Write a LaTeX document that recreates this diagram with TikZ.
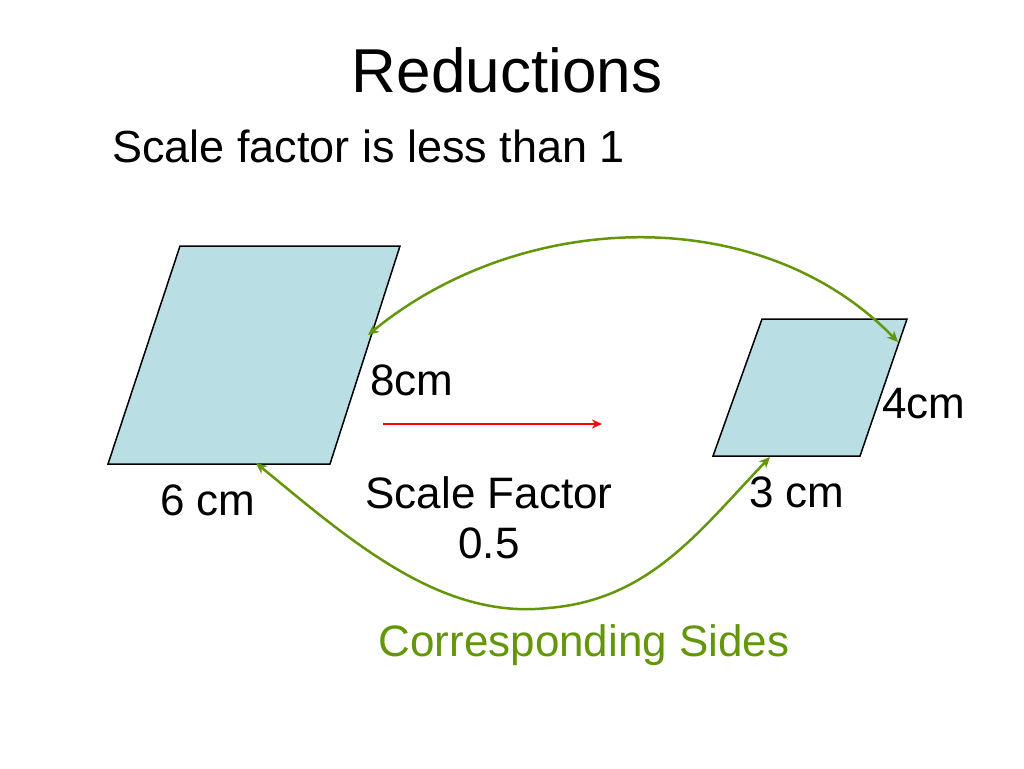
\documentclass[tikz,border=0pt]{standalone}
\usepackage{fontspec}
\setmainfont{Liberation Sans}
\usetikzlibrary{arrows.meta}
\definecolor{gr}{RGB}{100,150,10}
\definecolor{fillb}{RGB}{185,222,228}
\begin{document}
\begin{tikzpicture}[x=1pt,y=-1pt,
  lbl/.style={inner sep=0pt,font=\fontsize{44}{50}\selectfont},
  shp/.style={draw=black,fill=fillb,line width=1.5pt},
  conn/.style={draw=gr,line width=2.5pt,<->,>={Stealth[length=11pt,width=10pt]}}]
\useasboundingbox (0,0) rectangle (1024,768);
\node[inner sep=0pt,font=\fontsize{62}{70}\selectfont] (title) at (507,70) {Reductions};
\node[inner sep=0pt,font=\fontsize{45}{50}\selectfont,anchor=west] (sub) at (112,146) {Scale factor is less than 1};
\draw[shp] (180,246) -- (400,246) -- (330,464) -- (108,464) -- cycle;
\draw[shp] (762,319) -- (907,319) -- (860,456) -- (713,456) -- cycle;
\coordinate (a1) at (368,335); \coordinate (a2) at (898,342);
\coordinate (b1) at (256,463); \coordinate (b2) at (770,457);
\draw[conn] (a1) .. controls (520,210) and (760,200) .. (a2);
\draw[conn] (b1) .. controls (350,540) and (440,620) .. (548,608) .. controls (650,600) and (700,530) .. (b2);
\coordinate (r1) at (383,424); \coordinate (r2) at (602,424);
\draw[red,line width=2.5pt,-{Stealth[length=10pt,width=9pt]}] (r1) -- (r2);
\node[lbl] (l8) at (412,380) {8cm};
\node[lbl] (l4) at (924,404) {4cm};
\node[lbl] (l6) at (208,500) {6 cm};
\node[lbl] (l3) at (797,492) {3 cm};
\node[lbl,align=center] (sf) at (489,518) {Scale Factor\\0.5};
\node[lbl,text=gr] (cs) at (584,645) {Corresponding Sides};
\end{tikzpicture}
\end{document}
